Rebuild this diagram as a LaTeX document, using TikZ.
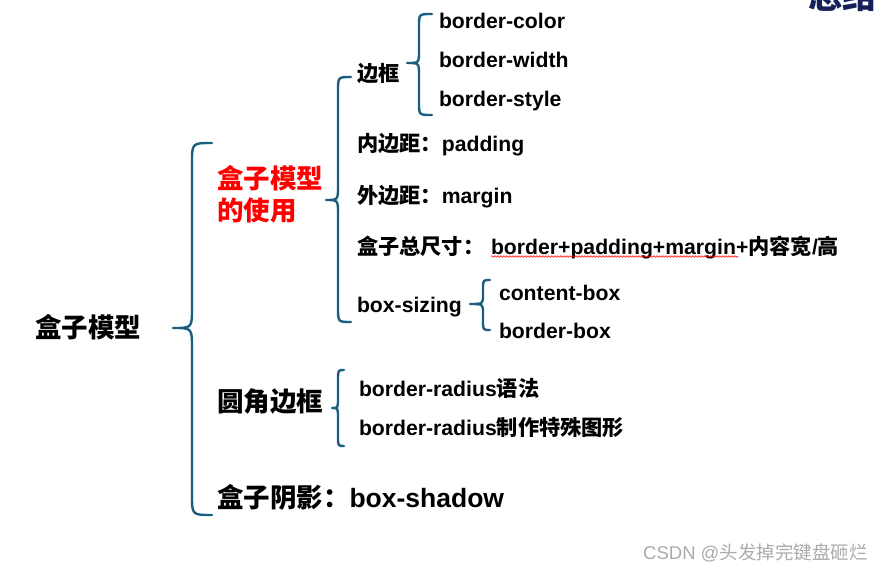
\documentclass[tikz,border=0pt]{standalone}
\usepackage{fontspec}
\setmainfont{Liberation Sans}
\newfontfamily\zhfont{Noto Sans CJK SC}
\usetikzlibrary{decorations.pathmorphing}
\definecolor{bracecol}{HTML}{1B5E80}
\definecolor{titlecol}{HTML}{16215C}
\definecolor{wmcol}{HTML}{ABABAB}
\newcommand{\zh}[1]{{\zhfont #1}}
\newcommand{\mybrace}[7]{\draw[bracestyle] (#1,#4) .. controls (#2,#4) .. (#2,#4+#7) -- (#2,#5-#7) .. controls (#2,#5) .. (#3,#5) .. controls (#2,#5) .. (#2,#5+#7) -- (#2,#6-#7) .. controls (#2,#6) .. (#1,#6);}
\tikzset{
  bracestyle/.style={draw=bracecol, line width=2.4pt, line cap=round, line join=round},
  bigtext/.style={font=\fontsize{26.5}{30}\selectfont\bfseries, anchor=base west, inner sep=0pt, outer sep=0pt},
  smalltext/.style={font=\fontsize{21.2}{25}\selectfont\bfseries, anchor=base west, inner sep=0pt, outer sep=0pt},
}
\begin{document}
\begin{tikzpicture}[x=1pt,y=-1pt]
\useasboundingbox (0,0) rectangle (890,572);
\clip (0,0) rectangle (890,572);
\fill[white] (0,0) rectangle (890,572);
% title (cut off at the top edge, as in the reference)
\node[font=\fontsize{34}{38}\selectfont\bfseries, text=titlecol, anchor=base west, inner sep=0pt] (title) at (808,9) {\zh{总结}};
% braces
\mybrace{212}{192}{173}{143}{328}{515}{20}
\mybrace{351}{338}{326}{77}{200}{322}{14}
\mybrace{432}{419}{407}{14}{63}{115}{12}
\mybrace{344}{338}{332}{370}{408}{446}{10}
\mybrace{490}{483}{470}{280}{304}{330}{9}
% level 1
\node[bigtext] (root) at (35,337) {\zh{盒子模型}};
% level 2
\node[bigtext, text=red] (use1) at (217,188) {\zh{盒子模型}};
\node[bigtext, text=red] (use2) at (217,220) {\zh{的使用}};
\node[bigtext] (radius) at (217,411) {\zh{圆角边框}};
\node[bigtext] (shadow) at (217,507) {\zh{盒子阴影：}box-shadow};
% level 3
\node[smalltext] (border) at (357,82) {\zh{边框}};
\node[smalltext] (bcolor) at (439,29) {border-color};
\node[smalltext] (bwidth) at (439,68) {border-width};
\node[smalltext] (bstyle) at (439,107) {border-style};
\node[smalltext] (padding) at (357,152) {\zh{内边距：}padding};
\node[smalltext] (margin) at (357,203) {\zh{外边距：}margin};
\node[smalltext] (total) at (357,254) {\zh{盒子总尺寸：}};
\node[smalltext] (sum) at (491,254) {border+padding+margin+\zh{内容宽}/\zh{高}};
\node[smalltext] (sizing) at (357,312) {box-sizing};
\node[smalltext] (cbox) at (499,300) {content-box};
\node[smalltext] (bbox) at (499,338) {border-box};
\node[smalltext] (rsyntax) at (359,396) {border-radius\zh{语法}};
\node[smalltext] (rshape) at (359,435) {border-radius\zh{制作特殊图形}};
% spell-check squiggle
\draw[red, line width=0.6pt, decorate, decoration={snake, amplitude=0.8pt, segment length=3pt}] (491,256.5) -- (738,256.5);
% watermark
\node[font=\fontsize{18.5}{21}\selectfont, text=wmcol, anchor=base west, inner sep=0pt] (wm) at (643,559) {CSDN @\zh{头发掉完键盘砸烂}};
\end{tikzpicture}
\end{document}
